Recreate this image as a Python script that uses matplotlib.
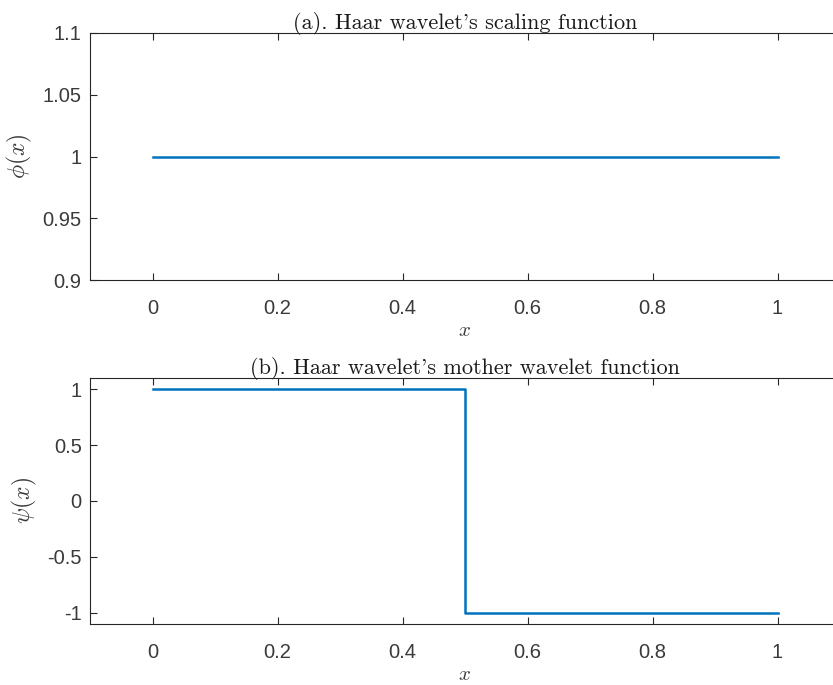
import numpy as np
import matplotlib
matplotlib.use("Agg")
import matplotlib.pyplot as plt

plt.rcParams["mathtext.fontset"] = "cm"
plt.rcParams["font.family"] = ["Liberation Sans", "DejaVu Sans"]

# Haar scaling function samples on [0, 1]
x_phi = [0.0, 1.0]
phi = [1.0, 1.0]

# Haar mother wavelet: +1 on [0, 0.5), -1 on [0.5, 1]
x_psi = [0.0, 0.5, 0.5, 1.0]
psi = [1.0, 1.0, -1.0, -1.0]

x_ticks = [0, 0.2, 0.4, 0.6, 0.8, 1]
x_ticklabels = ["0", "0.2", "0.4", "0.6", "0.8", "1"]
phi_ticks = [0.9, 0.95, 1.0, 1.05, 1.1]
phi_ticklabels = ["0.9", "0.95", "1", "1.05", "1.1"]
psi_ticks = [-1, -0.5, 0, 0.5, 1]
psi_ticklabels = ["-1", "-0.5", "0", "0.5", "1"]

line_color = "#0072BD"
axis_color = "#262626"
label_color = "#3a3a3a"

W, H = 833, 685
fig = plt.figure(figsize=(W / 100, H / 100), dpi=100)

def px_axes(left, top, right, bottom):
    return fig.add_axes([left / W, 1 - bottom / H, (right - left) / W, (bottom - top) / H])

ax1 = px_axes(90, 33, 840, 280)
ax2 = px_axes(90, 378, 840, 624)

title_font = dict(family="cmr10", size=16, color="#1a1a1a")

def style(ax, yticks, ylabels):
    ax.set_xlim(-0.1, 1.1)
    ax.set_xticks(x_ticks)
    ax.set_xticklabels(x_ticklabels)
    ax.set_yticks(yticks)
    ax.set_yticklabels(ylabels)
    for s in ax.spines.values():
        s.set_color(axis_color)
        s.set_linewidth(0.8)
    ax.tick_params(direction="in", length=5, width=0.8, color=axis_color,
                   labelcolor=label_color, labelsize=14.5, top=True, right=True)
    ax.tick_params(axis="x", pad=14)
    ax.tick_params(axis="y", pad=6)

ax1.plot(x_phi, phi, color=line_color, lw=1.8)
ax1.set_ylim(0.9, 1.1)
style(ax1, phi_ticks, phi_ticklabels)
ax1.set_title("(a). Haar wavelet's scaling function", pad=3, **title_font)
ax1.set_xlabel("$x$", fontsize=15, color=label_color, labelpad=2)
ax1.set_ylabel(r"$\phi(x)$", fontsize=17, color=label_color, labelpad=6)

ax2.plot(x_psi, psi, color=line_color, lw=1.8)
ax2.set_ylim(-1.1, 1.1)
style(ax2, psi_ticks, psi_ticklabels)
ax2.set_title("(b). Haar wavelet's mother wavelet function", pad=3, **title_font)
ax2.set_xlabel("$x$", fontsize=15, color=label_color, labelpad=2)
ax2.set_ylabel(r"$\psi(x)$", fontsize=17, color=label_color, labelpad=6)

fig.savefig("out.png", dpi=100)
